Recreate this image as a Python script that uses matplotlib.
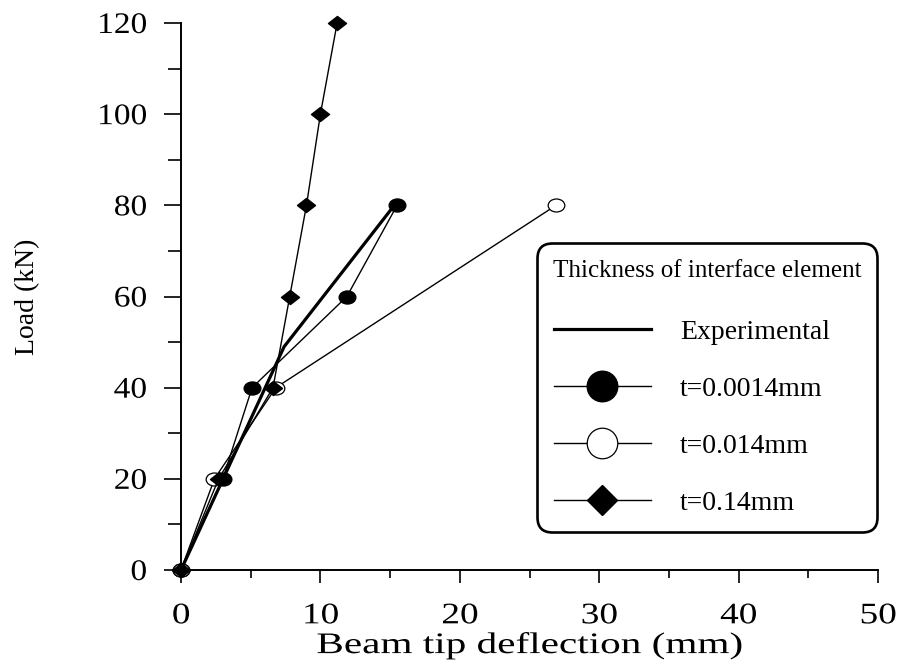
import matplotlib
matplotlib.use("Agg")
import matplotlib.pyplot as plt
from matplotlib.path import Path
from matplotlib.lines import Line2D
from matplotlib.ticker import MultipleLocator
from matplotlib.patheffects import AbstractPathEffect
from matplotlib.transforms import Affine2D
import numpy as np

plt.rcParams['font.family'] = ['Liberation Serif', 'DejaVu Serif']

# data
exp_x = [0, 7.4, 15.3]
exp_y = [0, 49, 80]

t1_x = [0, 3.0, 5.1, 11.9, 15.5]      # t=0.0014mm
t1_y = [0, 20, 40, 60, 80]

t2_x = [0, 2.4, 6.8, 26.9]            # t=0.014mm
t2_y = [0, 20, 40, 80]

t3_x = [0, 2.7, 6.6, 7.8, 9.0, 10.0, 11.2]   # t=0.14mm
t3_y = [0, 20, 40, 60, 80, 100, 120]

labels = ['Experimental', 't=0.0014mm', 't=0.014mm', 't=0.14mm']


# the original's axis text is stretched sideways
class HStretch(AbstractPathEffect):
    def __init__(self, sx, anchor='center'):
        super().__init__()
        self.sx = sx
        self.anchor = anchor

    def draw_path(self, renderer, gc, tpath, affine, rgbFace=None):
        verts = affine.transform(tpath.vertices)
        if len(verts) == 0:
            return
        if self.anchor == 'right':
            cx = verts[:, 0].max()
        else:
            cx = 0.5 * (verts[:, 0].min() + verts[:, 0].max())
        t = affine + Affine2D().translate(-cx, 0).scale(self.sx, 1).translate(cx, 0)
        renderer.draw_path(gc, tpath, t, rgbFace)


# slightly flattened markers like in the original
circ = Path.unit_circle()
ellipse = Path(circ.vertices * [1.0, 0.78], circ.codes)
flat_diamond = Path([(-1, 0), (0, 0.78), (1, 0), (0, -0.78), (-1, 0)],
                    [Path.MOVETO, Path.LINETO, Path.LINETO, Path.LINETO, Path.CLOSEPOLY])

fig = plt.figure(figsize=(9.01, 6.64), dpi=100)
ax = fig.add_axes([181/901, 1 - 570/664, 697/901, 547/664])

ax.plot(exp_x, exp_y, color='black', lw=2.3, zorder=3)
ax.plot(t1_x, t1_y, color='black', lw=1.0, marker=ellipse, ms=12,
        mfc='black', mec='black', clip_on=False, zorder=4)
ax.plot(t2_x, t2_y, color='black', lw=1.0, marker=ellipse, ms=12,
        mfc='white', mec='black', mew=0.9, clip_on=False, zorder=4)
ax.plot(t3_x, t3_y, color='black', lw=1.0, marker=flat_diamond, ms=13,
        mfc='black', mec='black', clip_on=False, zorder=5)

ax.set_xlim(0, 50)
ax.set_ylim(0, 120)
ax.xaxis.set_major_locator(MultipleLocator(10))
ax.xaxis.set_minor_locator(MultipleLocator(5))
ax.yaxis.set_major_locator(MultipleLocator(20))
ax.yaxis.set_minor_locator(MultipleLocator(10))

for s in ['top', 'right']:
    ax.spines[s].set_visible(False)
for s in ['left', 'bottom']:
    ax.spines[s].set_linewidth(1.4)

ax.tick_params(axis='x', which='major', direction='out', length=9.5, width=1.2, pad=14.5, labelsize=21.5)
ax.tick_params(axis='x', which='minor', direction='out', length=6, width=1.2)
ax.tick_params(axis='y', which='major', direction='out', length=12.5, width=1.2, pad=12, labelsize=21.5)
ax.tick_params(axis='y', which='minor', direction='out', length=9.5, width=1.2)

for lbl in ax.get_xticklabels():
    lbl.set_path_effects([HStretch(1.25)])
for lbl in ax.get_yticklabels():
    lbl.set_path_effects([HStretch(1.12, anchor='right')])

xl = ax.set_xlabel('Beam tip deflection (mm)', fontsize=21.5, labelpad=2)
xl.set_path_effects([HStretch(1.38)])
ax.set_ylabel('Load (kN)', fontsize=20)
ax.yaxis.set_label_coords(-0.202, 0.5)

handles = [
    Line2D([], [], color='black', lw=2.3),
    Line2D([], [], color='black', lw=1.0, marker='o', ms=22, mfc='black', mec='black'),
    Line2D([], [], color='black', lw=1.0, marker='o', ms=22, mfc='white', mec='black', mew=0.9),
    Line2D([], [], color='black', lw=1.0, marker='D', ms=15.5, mfc='black', mec='black'),
]
leg = ax.legend(handles, labels, title='Thickness of interface element',
                title_fontsize=18, fontsize=20, loc='upper left',
                bbox_to_anchor=(0.511, 0.598, 0.488, 0.0), mode='expand',
                handlelength=3.5, handletextpad=1.05, labelspacing=1.13,
                borderpad=0.6, borderaxespad=0, fancybox=True, framealpha=1,
                edgecolor='black')
leg.get_frame().set_linewidth(1.9)
leg.get_frame().set_boxstyle('round,pad=0,rounding_size=0.55')
leg._legend_box.sep = 27.4   # gap between title and first entry, points

fig.savefig('out.png', dpi=100)
